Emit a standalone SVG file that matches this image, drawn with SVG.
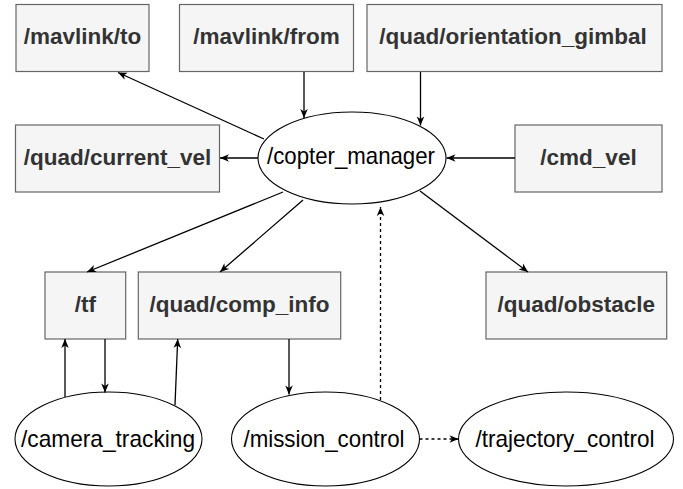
<svg xmlns="http://www.w3.org/2000/svg" width="683" height="489" viewBox="0 0 683 489">
  <style>
    .topic rect { fill: #f5f5f5; stroke: #666666; stroke-width: 1.2; }
    .topic text { font-family: "Liberation Sans", Arial, sans-serif; font-weight: bold; font-size: 22.5px; fill: #333333; text-anchor: middle; }
    .node ellipse { fill: #ffffff; stroke: #000000; stroke-width: 1.1; }
    .node text { font-family: "Liberation Sans", Arial, sans-serif; font-size: 24px; fill: #000000; text-anchor: middle; }
    .edge { fill: none; stroke: #000000; stroke-width: 1.3; marker-end: url(#arrow); }
    .dashed { stroke-dasharray: 3 3; }
  </style>
  <defs>
    <marker id="arrow" viewBox="0 0 10 10" refX="10" refY="5" markerWidth="10" markerHeight="9" markerUnits="userSpaceOnUse" orient="auto">
      <path d="M0,0.8 L10,5 L0,9.2 L2.8,5 Z" fill="#000000"/>
    </marker>
  </defs>

  <rect width="683" height="489" fill="#ffffff"/>

  <!-- topics (rectangles) -->
  <g id="mavlink_to" class="topic">
    <rect x="16" y="4.5" width="133" height="67"/>
    <text x="82.5" y="44">/mavlink/to</text>
  </g>
  <g id="mavlink_from" class="topic">
    <rect x="179.5" y="4.5" width="174" height="67"/>
    <text x="266.5" y="44">/mavlink/from</text>
  </g>
  <g id="quad_orientation_gimbal" class="topic">
    <rect x="367" y="4.5" width="295" height="67"/>
    <text x="513" y="44">/quad/orientation_gimbal</text>
  </g>
  <g id="quad_current_vel" class="topic">
    <rect x="15.5" y="125" width="204" height="67"/>
    <text x="117.5" y="164.5">/quad/current_vel</text>
  </g>
  <g id="cmd_vel" class="topic">
    <rect x="515" y="125" width="147" height="67"/>
    <text x="588.5" y="164.5">/cmd_vel</text>
  </g>
  <g id="tf" class="topic">
    <rect x="45" y="272" width="80.7" height="67"/>
    <text x="85.3" y="312">/tf</text>
  </g>
  <g id="quad_comp_info" class="topic">
    <rect x="138.3" y="272" width="202.4" height="67"/>
    <text x="239.5" y="312">/quad/comp_info</text>
  </g>
  <g id="quad_obstacle" class="topic">
    <rect x="486" y="272" width="180.7" height="67"/>
    <text x="576.3" y="312">/quad/obstacle</text>
  </g>

  <!-- nodes (ellipses) -->
  <g id="copter_manager" class="node">
    <ellipse cx="352" cy="158" rx="94" ry="46"/>
    <text x="351" y="164" textLength="168" lengthAdjust="spacingAndGlyphs">/copter_manager</text>
  </g>
  <g id="camera_tracking" class="node">
    <ellipse cx="108.5" cy="439" rx="93.5" ry="47"/>
    <text x="108" y="447" textLength="174" lengthAdjust="spacingAndGlyphs">/camera_tracking</text>
  </g>
  <g id="mission_control" class="node">
    <ellipse cx="325.5" cy="439" rx="94" ry="47"/>
    <text x="324" y="447" textLength="161" lengthAdjust="spacingAndGlyphs">/mission_control</text>
  </g>
  <g id="trajectory_control" class="node">
    <ellipse cx="566" cy="439" rx="107.5" ry="47"/>
    <text x="565" y="447" textLength="179" lengthAdjust="spacingAndGlyphs">/trajectory_control</text>
  </g>

  <!-- connectors -->
  <g id="connectors">
    <path class="edge" d="M264,139 L118,72.5"/>
    <path class="edge" d="M304,72 L304,118"/>
    <path class="edge" d="M420.5,72 L420.5,125.5"/>
    <path class="edge" d="M258,158 L220,158"/>
    <path class="edge" d="M515,158 L446.5,158"/>
    <path class="edge" d="M283,192 L87,272"/>
    <path class="edge" d="M303,200 L220,272"/>
    <path class="edge" d="M420,191 L528,272"/>
    <path class="edge dashed" d="M380.5,400 L380.5,207"/>
    <path class="edge" d="M105,339 L105,392.5"/>
    <path class="edge" d="M65,397 L65,339"/>
    <path class="edge" d="M175,405 L177.7,339"/>
    <path class="edge" d="M289,339 L289,394.5"/>
    <path class="edge dashed" d="M419.5,439 L458.5,439"/>
  </g>
</svg>
